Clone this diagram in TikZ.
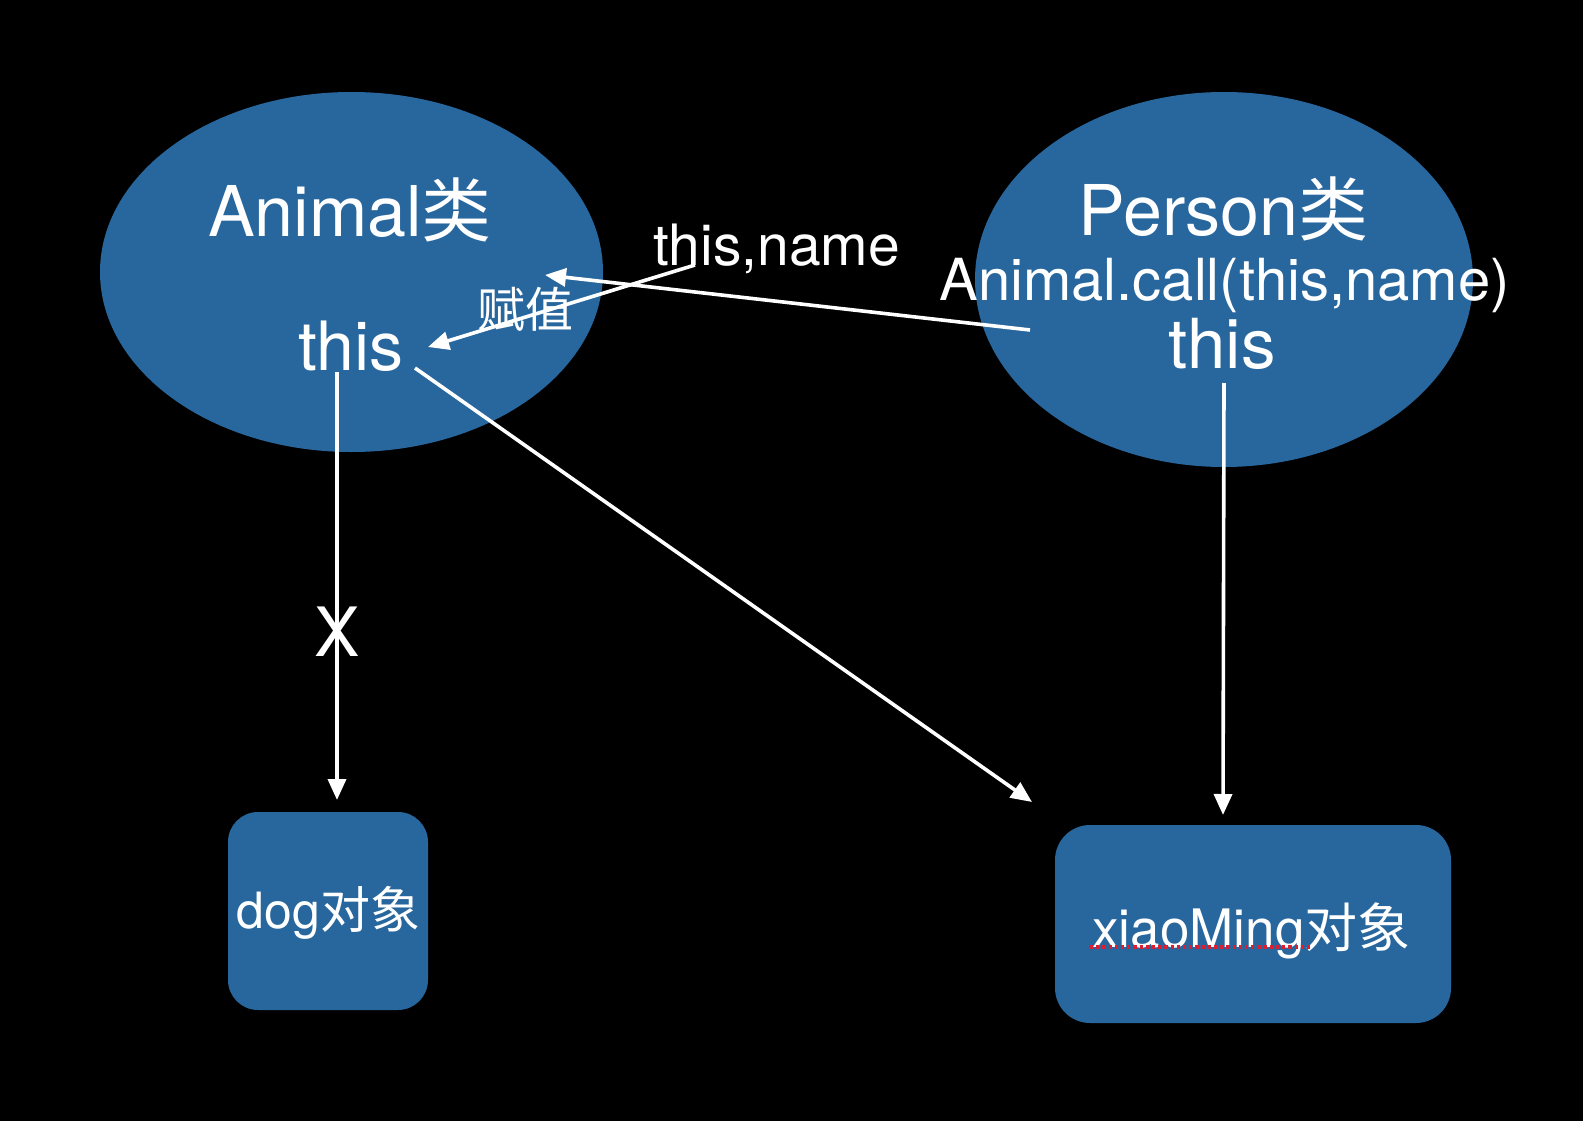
\documentclass[tikz,border=0pt]{standalone}
\usepackage{fontspec}
\setmainfont{TeX Gyre Heros}
\newfontfamily\cjk{Noto Sans CJK SC}
\usetikzlibrary{shapes.geometric,arrows.meta}
\definecolor{nodeblue}{RGB}{40,103,158}
\definecolor{spellred}{RGB}{220,30,50}
\tikzset{
  blob/.style={ellipse,fill=nodeblue,inner sep=0pt,draw=none},
  objbox/.style={rectangle,fill=nodeblue,inner sep=0pt,draw=none},
  lbl/.style={text=white,inner sep=0pt},
  arr/.style={draw=white,line width=3.6pt,-{Triangle[length=21pt,width=18pt]}},
  plain/.style={draw=white,line width=3.6pt}
}
\newcommand{\fs}[1]{\fontsize{#1}{#1}\selectfont}
\begin{document}
\begin{tikzpicture}[x=1pt,y=-1pt]
\fill[black] (0,0) rectangle (1583,1121);
\useasboundingbox (0,0) rectangle (1583,1121);

% shapes
\node[blob,minimum width=503pt,minimum height=360pt] (ellA) at (351.5,272) {};
\node[blob,minimum width=498pt,minimum height=375pt] (ellP) at (1224,279.5) {};
\node[objbox,rounded corners=30pt,minimum width=200pt,minimum height=198pt] (dog) at (328,911) {};
\node[objbox,rounded corners=35pt,minimum width=396pt,minimum height=198pt] (xm) at (1253,924) {};

% texts
\node[lbl,anchor=base] (tA) at (350,236) {\fs{70}Animal{\cjk 类}};
\node[lbl,anchor=base] (thisA) at (351,370) {\fs{68}this};
\node[lbl] (fz) at (525,309) {\fs{48}\cjk 赋值};
\node[lbl,anchor=base] (tn) at (776.5,265) {\fs{57}this,name};
\node[lbl,anchor=base] (tP) at (1223.5,235) {\fs{70}Person{\cjk 类}};
\node[lbl,anchor=base] (call) at (1224.5,300) {\fs{58}Animal.call(this,name)};
\node[lbl,anchor=base] (thisP) at (1222,368) {\fs{69}this};
\node[lbl,anchor=base] (dogt) at (328.5,928) {\fs{50}dog{\cjk 对象}};
\node[lbl,anchor=base] (xmt) at (1251.5,947) {\fs{53}xiaoMing{\cjk 对象}};

% connector end points
\coordinate (a1) at (337,372);
\coordinate (a2) at (337,800);
\coordinate (b1) at (415,368);
\coordinate (b2) at (1032,802);
\coordinate (c1) at (1224,383);
\coordinate (c2) at (1223,815);
\coordinate (d1) at (695,265);
\coordinate (d2) at (428,347);
\coordinate (e1) at (1030,330);
\coordinate (e2) at (545,275);

\draw[arr] (a1) -- (a2);
\draw[arr] (b1) -- (b2);
\draw[arr] (c1) -- (c2);
\draw[arr] (e1) -- (e2);
\draw[arr] (d1) -- (d2);

\node[lbl] (xmark) at (337,632) {\fs{68}X};

% spell-check underline
\coordinate (u1) at (1090,947);
\coordinate (u2) at (1310,947);
\draw[spellred,line width=3.2pt,dash pattern=on 3.2pt off 3pt] (u1) -- (u2);
\end{tikzpicture}
\end{document}
